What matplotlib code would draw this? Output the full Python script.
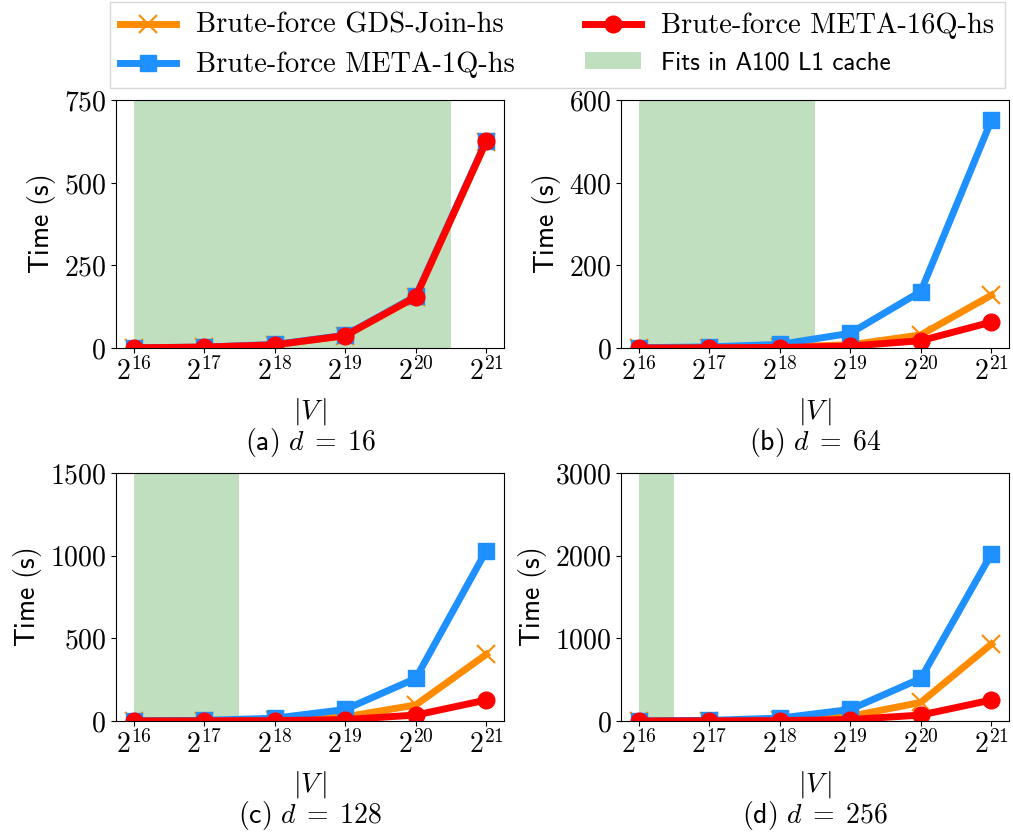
import math
import matplotlib
matplotlib.use("Agg")
import matplotlib.pyplot as plt
from matplotlib.ticker import FixedLocator, FuncFormatter, NullLocator

plt.rcParams['mathtext.fontset'] = 'cm'
plt.rcParams['font.family'] = ['cmr10', 'DejaVu Serif']
plt.rcParams['axes.formatter.use_mathtext'] = True

sizes = [65536, 131072, 262144, 524288, 1048576, 2097152]
dims = [16, 64, 128, 256]
panel_tags = ['a', 'b', 'c', 'd']

# seconds
gds_join = [
    [1, 3, 10, 37, 154, 624],
    [0.5, 1.5, 3, 8, 32, 128],
    [0.5, 2, 6, 25, 97, 403],
    [1, 4, 14, 57, 225, 930],
]
meta_1q = [
    [1.2, 3, 11, 39, 157, 628],
    [1, 3, 9, 36, 137, 551],
    [1.5, 4, 17, 70, 258, 1030],
    [2, 8, 35, 140, 515, 2020],
]
meta_16q = [
    [1, 3, 10, 38, 155, 626],
    [0.3, 1, 1.5, 5, 18, 63],
    [0.3, 1, 2.5, 9, 36, 127],
    [0.5, 2, 5, 18, 72, 254],
]
# upper end of the L1-cache region, in |V|
cache_end = [1482910, 370727, 185364, 92682]
ytops = [750, 600, 1500, 3000]
yticks = [[0, 250, 500, 750], [0, 200, 400, 600], [0, 500, 1000, 1500], [0, 1000, 2000, 3000]]

labels = ['Brute-force GDS-Join-hs', 'Brute-force META-1Q-hs', 'Brute-force META-16Q-hs',
          'Fits in A100 L1 cache']

fig, axes = plt.subplots(2, 2, figsize=(10.13, 8.35), dpi=100)
fig.subplots_adjust(left=0.1145, right=0.996, top=0.880, bottom=0.1365, wspace=0.302, hspace=0.504)

for i, ax in enumerate(axes.flat):
    span = ax.axvspan(sizes[0], cache_end[i], color='green', alpha=0.25, lw=0)
    l1, = ax.plot(sizes, gds_join[i], color='darkorange', lw=5, marker='x', ms=13, mew=1.5)
    l2, = ax.plot(sizes, meta_1q[i], color='dodgerblue', lw=5, marker='s', ms=12)
    l3, = ax.plot(sizes, meta_16q[i], color='red', lw=5, marker='o', ms=12)
    ax.set_xscale('log', base=2)
    ax.xaxis.set_major_locator(FixedLocator(sizes))
    ax.xaxis.set_minor_locator(NullLocator())
    ax.xaxis.set_major_formatter(FuncFormatter(lambda v, p: r'$2^{%d}$' % round(math.log2(v))))
    ax.set_ylim(0, ytops[i])
    ax.set_yticks(yticks[i])
    ax.yaxis.set_major_formatter(FuncFormatter(lambda v, p: r'$%d$' % v))
    ax.tick_params(labelsize=20)
    ax.set_ylabel(r'$\mathsf{Time\ (s)}$', fontsize=20)
    ax.set_xlabel(r'$|V\,|$', fontsize=20, labelpad=7)
    ax.text(0.5, -0.382, r'$\mathsf{(%s)}\ d\;=\;%d$' % (panel_tags[i], dims[i]),
            transform=ax.transAxes, ha='center', va='center', fontsize=20)

leg = fig.legend([l1, l2, l3, span], labels, loc='upper left', ncol=2,
                 bbox_to_anchor=(110 / 1013, 0.9976),
                 borderaxespad=0, fontsize=18, handlelength=2.25, handletextpad=0.8,
                 columnspacing=2.8, fancybox=False, edgecolor='0.8')
for t in leg.get_texts()[:3]:
    t.set_fontsize(20.5)
leg.get_texts()[3].set_fontfamily('cmss10')

plt.savefig('out.png')
